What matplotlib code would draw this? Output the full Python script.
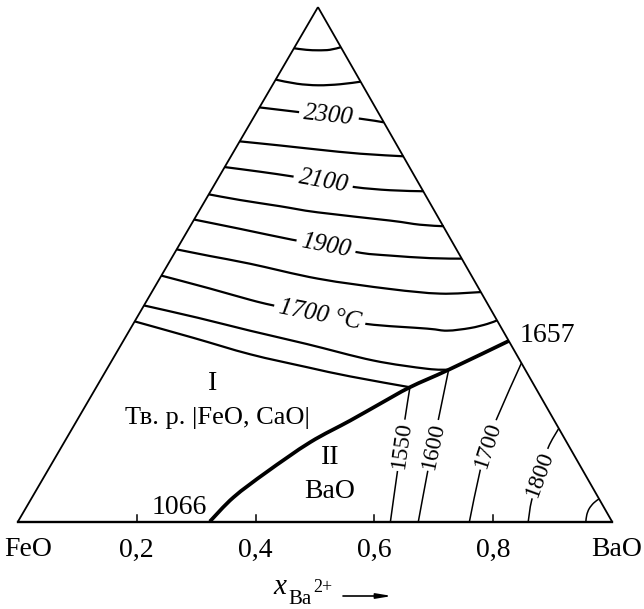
import numpy as np
import matplotlib
matplotlib.use("Agg")
import matplotlib.pyplot as plt
from matplotlib.path import Path
from matplotlib.patches import PathPatch

plt.rcParams['font.family'] = ['Liberation Serif', 'DejaVu Serif']

# ---------------- data (mole fractions: x_Ba, x_Ca; x_Fe = 1 - x_Ba - x_Ca) -------------
vertex_names = ['FeO', 'BaO']
vertex_ba = [0.0, 1.0, 0.0]          # FeO, BaO, CaO corners
vertex_ca = [0.0, 0.0, 1.0]
tick_values = [0.2, 0.4, 0.6, 0.8]
tick_labels = ['0,2', '0,4', '0,6', '0,8']

# isotherms of field I (solid solution |FeO, CaO|)
iso_2500_ba = [0.000, 0.022, 0.043, 0.062, 0.078]
iso_2500_ca = [0.920, 0.917, 0.916, 0.917, 0.922]
iso_2400_ba = [0.000, 0.040, 0.077, 0.113, 0.145]
iso_2400_ca = [0.859, 0.851, 0.848, 0.850, 0.855]
iso_2300_ba = [0.000, 0.070, 0.125, 0.181, 0.224]
iso_2300_ca = [0.805, 0.796, 0.789, 0.783, 0.776]
iso_2200_ba = [0.000, 0.072, 0.140, 0.215, 0.290]
iso_2200_ca = [0.739, 0.731, 0.723, 0.715, 0.710]
iso_2100_ba = [0.000, 0.064, 0.122, 0.180, 0.239, 0.301, 0.358]
iso_2100_ca = [0.689, 0.680, 0.671, 0.661, 0.650, 0.644, 0.642]
iso_2000_ba = [0.000, 0.058, 0.131, 0.201, 0.331, 0.385, 0.427]
iso_2000_ca = [0.636, 0.625, 0.613, 0.601, 0.585, 0.577, 0.574]
iso_1900_ba = [0.000, 0.086, 0.184, 0.248, 0.315, 0.365, 0.435, 0.489]
iso_1900_ca = [0.587, 0.569, 0.548, 0.536, 0.522, 0.517, 0.512, 0.511]
iso_1800_ba = [0.000, 0.063, 0.138, 0.267, 0.398, 0.487, 0.554]
iso_1800_ca = [0.529, 0.516, 0.501, 0.472, 0.452, 0.443, 0.446]
iso_1700_ba = [0.000, 0.094, 0.173, 0.218, 0.305, 0.393, 0.499, 0.535, 0.571, 0.596, 0.609]
iso_1700_ca = [0.478, 0.453, 0.431, 0.420, 0.402, 0.384, 0.375, 0.371, 0.376, 0.384, 0.391]
iso_1600_ba = [0.000, 0.103, 0.203, 0.312, 0.440, 0.538, 0.576]
iso_1600_ca = [0.420, 0.396, 0.371, 0.345, 0.313, 0.297, 0.295]
iso_1550_ba = [0.000, 0.115, 0.227, 0.335, 0.417, 0.528]
iso_1550_ca = [0.389, 0.357, 0.325, 0.300, 0.282, 0.261]

# boundary between fields I and II (1066 -> 1657)
bound_ba = [0.323, 0.339, 0.370, 0.414, 0.460, 0.494, 0.528, 0.576, 0.649]
bound_ca = [0.000, 0.047, 0.096, 0.154, 0.196, 0.229, 0.261, 0.295, 0.351]
bound_t_start, bound_t_end = '1066', '1657'

# isotherms of field II (BaO)
ii_1550_ba = [0.528, 0.552, 0.571, 0.589, 0.627]
ii_1550_ca = [0.261, 0.196, 0.148, 0.099, 0.000]
ii_1600_ba = [0.576, 0.607, 0.624, 0.641, 0.674]
ii_1600_ca = [0.295, 0.200, 0.148, 0.096, 0.000]
ii_1700_ba = [0.692, 0.705, 0.716, 0.728, 0.760]
ii_1700_ca = [0.308, 0.200, 0.149, 0.099, 0.000]
ii_1800_ba = [0.819, 0.820, 0.832, 0.844, 0.859]
ii_1800_ca = [0.180, 0.144, 0.093, 0.041, 0.000]
ii_corner_ba = [0.956, 0.951, 0.949, 0.951, 0.956]
ii_corner_ca = [0.000, 0.013, 0.025, 0.036, 0.044]

# ---------------- geometry / layout ----------------
APEX_X, APEX_Y = 0.505, 0.866
PX = 1 / 594.0   # one output pixel in data units


def to_xy(ba, ca):
    ba = np.asarray(ba, float)
    ca = np.asarray(ca, float)
    return ba + APEX_X * ca, APEX_Y * ca


def smooth_curve(ax, x, y, **kw):
    """Draw a smooth curve through the points (Catmull-Rom as cubic Bezier path)."""
    p = np.column_stack([x, y])
    n = len(p)
    verts = [p[0]]
    codes = [Path.MOVETO]
    for i in range(n - 1):
        p0 = p[i - 1] if i > 0 else p[i]
        p1, p2 = p[i], p[i + 1]
        p3 = p[i + 2] if i + 2 < n else p[i + 1]
        c1 = p1 + (p2 - p0) / 6.0
        c2 = p2 - (p3 - p1) / 6.0
        verts += [c1, c2, p2]
        codes += [Path.CURVE4] * 3
    patch = PathPatch(Path(verts, codes), fill=False, edgecolor='black',
                      capstyle='butt', joinstyle='round', **kw)
    ax.add_patch(patch)


fig = plt.figure(figsize=(6.44, 6.09), dpi=100)
ax = fig.add_axes([0, 0, 1, 1])
ax.set_xlim(-18 * PX, 626 * PX)
ax.set_ylim(-87.5 * PX, 521.5 * PX)
ax.axis('off')

# triangle
tx, ty = to_xy(vertex_ba + [vertex_ba[0]], vertex_ca + [vertex_ca[0]])
ax.plot(tx[1:3], ty[1:3], color='black', lw=1.3, solid_capstyle='butt')
ax.plot(tx[2:4], ty[2:4], color='black', lw=1.3, solid_capstyle='butt')
ax.plot(tx[0:2], ty[0:2], color='black', lw=1.7, solid_capstyle='projecting')

# ticks on the base
for t in tick_values:
    ax.plot([t, t], [0, 7 * PX], color='black', lw=1.1)
for t, lab in zip(tick_values, tick_labels):
    ax.text(t, -28.5 * PX, lab, ha='center', va='center', fontsize=20)
ax.text(10 * PX, -28.5 * PX, vertex_names[0], ha='center', va='center', fontsize=20)
ax.text(1 + 5 * PX, -28.5 * PX, vertex_names[1], ha='center', va='center', fontsize=20)

upper = [(iso_2500_ba, iso_2500_ca), (iso_2400_ba, iso_2400_ca),
         (iso_2300_ba, iso_2300_ca), (iso_2200_ba, iso_2200_ca),
         (iso_2100_ba, iso_2100_ca), (iso_2000_ba, iso_2000_ca),
         (iso_1900_ba, iso_1900_ca), (iso_1800_ba, iso_1800_ca),
         (iso_1700_ba, iso_1700_ca), (iso_1600_ba, iso_1600_ca),
         (iso_1550_ba, iso_1550_ca)]
for ba, ca in upper:
    x, y = to_xy(ba, ca)
    smooth_curve(ax, x, y, lw=1.6, zorder=2)

lower = [(ii_1550_ba, ii_1550_ca), (ii_1600_ba, ii_1600_ca),
         (ii_1700_ba, ii_1700_ca), (ii_1800_ba, ii_1800_ca),
         (ii_corner_ba, ii_corner_ca)]
for ba, ca in lower:
    x, y = to_xy(ba, ca)
    smooth_curve(ax, x, y, lw=1.1, zorder=2)

bx, by = to_xy(bound_ba, bound_ca)
smooth_curve(ax, bx, by, lw=2.7, zorder=4)

box = dict(boxstyle='square,pad=0.2', fc='white', ec='none')
# labels on upper isotherms: (text, x_Ba, x_Ca, rotation)
upper_labels = [('2300', 0.125, 0.789, -6), ('2100', 0.180, 0.661, -10),
                ('1900', 0.248, 0.536, -11), ('1700 °C', 0.305, 0.402, -11)]
for txt, ba, ca, rot in upper_labels:
    x, y = to_xy(ba, ca)
    ax.text(x, y, txt, ha='center', va='center', fontsize=18, style='italic',
            rotation=rot, rotation_mode='anchor', bbox=box, zorder=5)

box2 = dict(boxstyle='square,pad=0.1', fc='white', ec='none')
lower_labels = [('1550', 0.571, 0.148, 82), ('1600', 0.624, 0.148, 78),
                ('1700', 0.716, 0.149, 72), ('1800', 0.832, 0.093, 70)]
for txt, ba, ca, rot in lower_labels:
    x, y = to_xy(ba, ca)
    ax.text(x, y, txt, ha='center', va='center', fontsize=17,
            rotation=rot, rotation_mode='anchor', bbox=box2, zorder=5)

ax.annotate(bound_t_start, (bx[0], by[0]), xytext=(-2, 10), textcoords='offset points',
            ha='right', va='center', fontsize=20)
ax.annotate(bound_t_end, (bx[-1], by[-1]), xytext=(8, 4), textcoords='offset points',
            ha='left', va='center', fontsize=20)

# field labels
ax.text(195 * PX, 137.5 * PX, 'I', ha='center', va='center', fontsize=20)
ax.text(199 * PX, 103.5 * PX, 'Тв. р. |FeO, CaO|', ha='center', va='center', fontsize=19)
ax.text(312 * PX, 64.5 * PX, 'II', ha='center', va='center', fontsize=20)
ax.text(312 * PX, 30.5 * PX, 'BaO', ha='center', va='center', fontsize=20)

# axis title  x_(Ba^2+)  with arrow
ax.text(255 * PX, -73.0 * PX, 'x', style='italic', ha='left', va='baseline', fontsize=21)
ax.text(270 * PX, -82.5 * PX, 'Ba', ha='left', va='baseline', fontsize=15)
ax.text(295 * PX, -70.0 * PX, '2+', ha='left', va='baseline', fontsize=13)
ax.annotate('', xy=(374 * PX, -74.5 * PX), xytext=(325 * PX, -74.5 * PX),
            arrowprops=dict(arrowstyle='-|>,head_length=0.9,head_width=0.15',
                            lw=1.2, color='black', shrinkA=0, shrinkB=0))

fig.savefig('out.png', dpi=100)
